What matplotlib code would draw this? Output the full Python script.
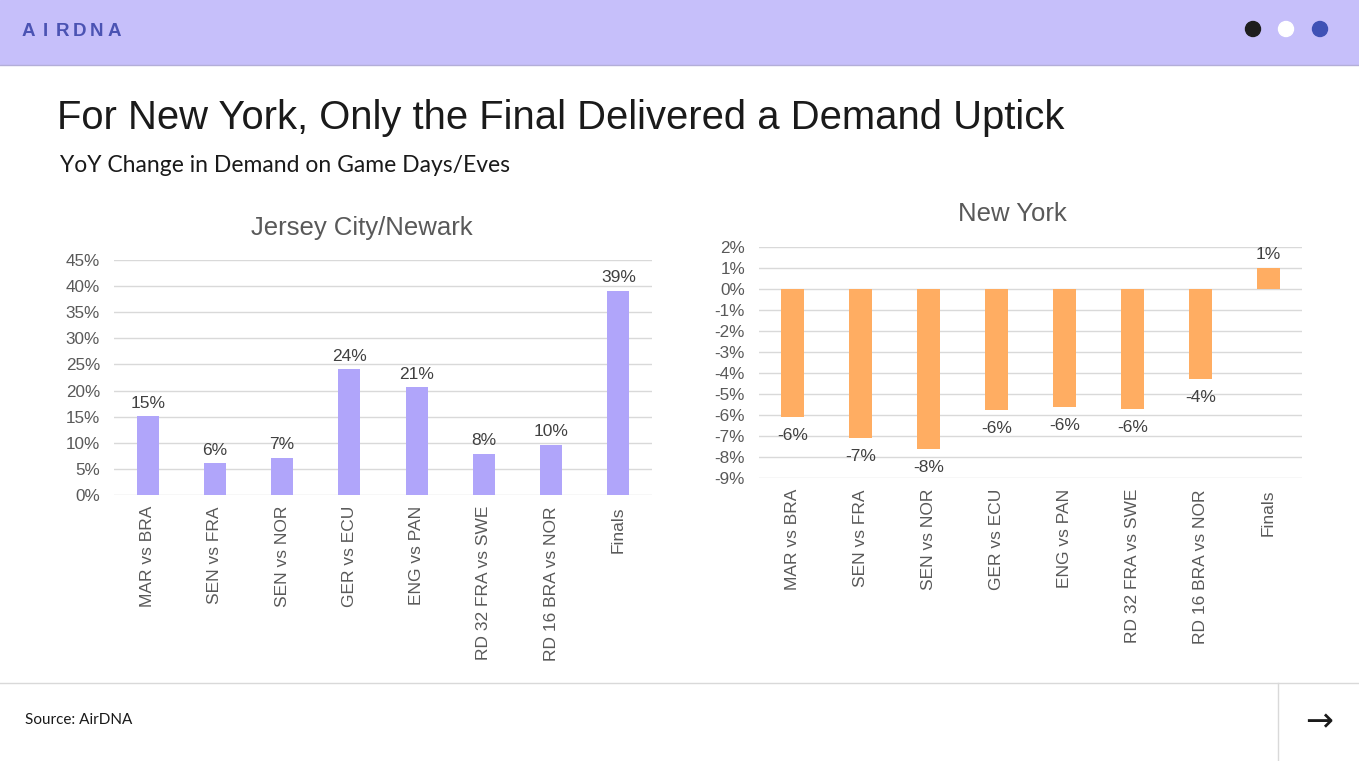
import numpy as np
import matplotlib.pyplot as plt
from matplotlib.patches import Rectangle, Ellipse
from matplotlib.lines import Line2D

plt.rcParams['font.family'] = ['Liberation Sans', 'DejaVu Sans']

# data
matches = ["MAR vs BRA", "SEN vs FRA", "SEN vs NOR", "GER vs ECU", "ENG vs PAN",
           "RD 32 FRA vs SWE", "RD 16 BRA vs NOR", "Finals"]
jersey_city = [15.1, 6.1, 7.1, 24.1, 20.6, 7.9, 9.6, 39.1]
new_york = [-6.1, -7.1, -7.6, -5.75, -5.6, -5.7, -4.3, 1.0]
jc_ticks = list(range(0, 50, 5))
ny_ticks = list(range(-9, 3))

W, H = 1359, 761
fig = plt.figure(figsize=(W / 100, H / 100), dpi=100)


def fx(px):
    return px / W


def fy(py):
    return 1 - py / H


# header band
fig.patches.append(Rectangle((0, fy(64)), 1, 64 / H, transform=fig.transFigure,
                             color='#c6bffa', zorder=0))
fig.lines.append(Line2D([0, 1], [fy(64.5), fy(64.5)], transform=fig.transFigure,
                        color='#b3aed8', lw=1))
for i, ch in enumerate("AIRDNA"):
    fig.text(fx(28 + i * 17.2), fy(32), ch, fontsize=13.5, fontweight='bold',
             color='#4b53b3', ha='center', va='center')
for x, c in [(1253, '#1e1e1e'), (1286, '#ffffff'), (1320, '#3f51b5')]:
    fig.patches.append(Ellipse((fx(x), fy(29)), 15 / W, 15 / H, transform=fig.transFigure,
                               color=c, zorder=2))

# titles
fig.text(fx(57), fy(118), "For New York, Only the Final Delivered a Demand Uptick",
         fontsize=28.8, color='#1a1a1a', ha='left', va='center')
fig.text(fx(60), fy(165), "YoY Change in Demand on Game Days/Eves",
         fontsize=16.5, color='#1a1a1a', ha='left', va='center', family=['Lato', 'DejaVu Sans'])

# footer
fig.lines.append(Line2D([0, 1], [fy(683), fy(683)], transform=fig.transFigure,
                        color='#d9d9d9', lw=1))
fig.lines.append(Line2D([fx(1278), fx(1278)], [fy(683), 0], transform=fig.transFigure,
                        color='#d9d9d9', lw=1))
fig.text(fx(25), fy(720), "Source: AirDNA", fontsize=11, color='#1a1a1a',
         ha='left', va='center', family=['Lato', 'DejaVu Sans'])
fig.text(fx(1319), fy(722), "→", fontsize=24, color='#1a1a1a', ha='center',
         va='center', family=['DejaVu Sans'])

grey = '#595959'
x = np.arange(len(matches))


def style(ax, ticks, lim):
    ax.set_xlim(-0.5, len(matches) - 0.5)
    ax.set_ylim(*lim)
    ax.set_yticks(ticks)
    ax.set_yticklabels([f"{t}%" for t in ticks], color=grey, fontsize=12.3)
    ax.set_xticks(x)
    ax.set_xticklabels(matches, rotation=90, color=grey, fontsize=12.5, va='top')
    ax.tick_params(length=0, pad=8)
    ax.tick_params(axis='y', pad=10)
    for s in ax.spines.values():
        s.set_visible(False)
    ax.grid(axis='y', color='#d9d9d9', lw=1)
    ax.set_axisbelow(True)


# Jersey City / Newark
ax1 = fig.add_axes([fx(114), fy(495), 538 / W, 235 / H])
ax1.bar(x, jersey_city, width=0.33, color='#b0a5fa')
style(ax1, jc_ticks, (0, 45))
for xi, v in zip(x, jersey_city):
    ax1.annotate(f"{v:.0f}%", (xi, v), xytext=(0, 4), textcoords='offset points',
                 ha='center', va='bottom', fontsize=12.5, color='#404040')
fig.text(fx(362), fy(228), "Jersey City/Newark", fontsize=18.5, color=grey,
         ha='center', va='center')

# New York
ax2 = fig.add_axes([fx(759), fy(478), 543 / W, 231 / H])
ax2.bar(x, new_york, width=0.34, color='#ffad62')
style(ax2, ny_ticks, (-9, 2))
for xi, v in zip(x, new_york):
    off = 4 if v >= 0 else -8
    ax2.annotate(f"{v:.0f}%", (xi, v), xytext=(0, off), textcoords='offset points',
                 ha='center', va='bottom' if v >= 0 else 'top', fontsize=12.5, color='#404040')
fig.text(fx(1012), fy(214), "New York", fontsize=18.5, color=grey,
         ha='center', va='center')

fig.savefig("out.png", dpi=100)
